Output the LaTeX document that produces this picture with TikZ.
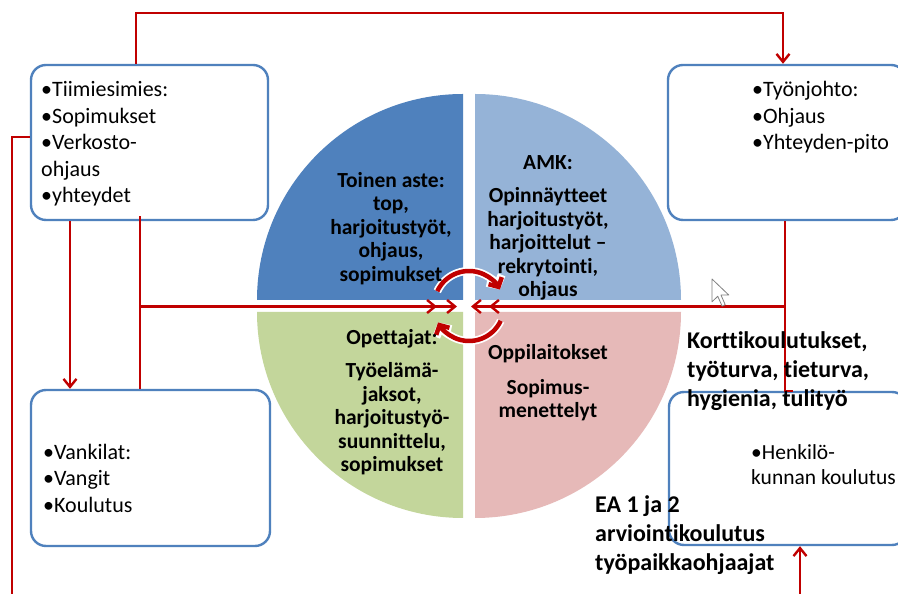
\documentclass[tikz,border=0pt]{standalone}
\usepackage{fontspec}
\setmainfont{Carlito}[Ligatures=NoCommon]
\usetikzlibrary{arrows.meta}
\definecolor{quadA}{HTML}{4F81BD}
\definecolor{quadB}{HTML}{95B3D7}
\definecolor{quadC}{HTML}{C3D69B}
\definecolor{quadD}{HTML}{E6B9B8}
\definecolor{boxblue}{HTML}{4F81BD}
\definecolor{linkred}{HTML}{C00000}
\begin{document}
\begin{tikzpicture}[x=1pt,y=1pt,
  box/.style={draw=boxblue, line width=2.4pt, rounded corners=15pt},
  link/.style={draw=linkred, line width=2.4pt},
  barb/.style={-{Straight Barb[length=8pt,width=13pt]}},
  boxtext/.style={font=\fontsize{22}{26.5}\selectfont, align=left, inner sep=0pt, anchor=base west},
  pietext/.style={font=\bfseries\fontsize{21.5}{23.5}\selectfont, align=center, inner sep=0pt, anchor=base},
  note/.style={font=\bfseries\fontsize{24}{29}\selectfont, align=left, inner sep=0pt, anchor=base west},
  cycarrow/.style={line width=4.5pt, linkred, -{Straight Barb[length=7pt,width=15pt]}},
  cychalo/.style={line width=8pt, white, -{Straight Barb[length=7pt,width=17pt]}}]

\useasboundingbox (0,0) rectangle (898,594);
\fill[white] (0,0) rectangle (898,594);

% four quarter-disc sectors
\fill[quadA] (463,294) -- ++(-206,0) arc[start angle=180, end angle=90, radius=206] -- cycle;
\fill[quadB] (475,294) -- ++(0,206) arc[start angle=90, end angle=0, radius=206] -- cycle;
\fill[quadC] (463,282) -- ++(0,-206) arc[start angle=270, end angle=180, radius=206] -- cycle;
\fill[quadD] (475,282) -- ++(206,0) arc[start angle=0, end angle=-90, radius=206] -- cycle;

% rounded boxes
\node[box, minimum width=237pt, minimum height=155pt] (tlbox) at (149.5,451.5) {};
\node[box, minimum width=238pt, minimum height=155pt] (trbox) at (787,451.5) {};
\node[box, minimum width=239pt, minimum height=156pt] (blbox) at (150.5,126) {};
\node[box, minimum width=238pt, minimum height=153pt] (brbox) at (788,125.5) {};

% junction points and free ends
\coordinate (hub) at (469,288);
\coordinate (ljoin) at (140,287.5);
\coordinate (rjoin) at (785,287.5);
\coordinate (lin) at (457,287.5);
\coordinate (rin) at (471,287.5);
\coordinate (leftfoot) at (12,-6);
\coordinate (rightfoot) at (800,-6);

% connectors
\draw[link, barb] (tlbox.north -| 136,0) -- ++(0,51) -| (trbox.north -| 783,0);
\draw[link] (tlbox.west |- 0,457) -| (leftfoot);
\draw[link, barb] (tlbox.south -| 70,0) -- (blbox.north -| 70,0);
\draw[link] ([yshift=5pt]tlbox.south -| 140,0) -- (blbox.north -| 140,0);
\draw[link, barb] (ljoin) -- (lin);
\draw[link, barb] (ljoin) -- ([xshift=-20pt]lin);
\draw[link] (trbox.south -| 785,0) -- (brbox.north -| 785,0) -- ++(8,0);
\draw[link, barb] (rjoin) -- (rin);
\draw[link, barb] (rjoin) -- ([xshift=18pt]rin);
\draw[link, barb] (rightfoot) -- (brbox.south -| 800,0);

% circular arrows around the centre
\draw[cychalo] ([shift={(155:35)}]hub) arc[start angle=155, end angle=28, radius=35];
\draw[cycarrow] ([shift={(155:35)}]hub) arc[start angle=155, end angle=28, radius=35];
\draw[cychalo] ([shift={(-25:35)}]hub) arc[start angle=-25, end angle=-152, radius=35];
\draw[cycarrow] ([shift={(-25:35)}]hub) arc[start angle=-25, end angle=-152, radius=35];

% mouse pointer
\filldraw[fill=white, draw=gray, line width=0.8pt, line join=round, shift={(712,315)}, scale=1.2]
  (0,0) -- ++(0,-19) -- ++(4.8,4.6) -- ++(3.6,-8.2) -- ++(2.6,1.2) -- ++(-3.5,8) -- ++(6.5,0) -- cycle;

% texts in the boxes (anchored at the baseline of their last line)
\node[boxtext] (tltext) at (41,391.3) {•Tiimiesimies:\\•Sopimukset\\•Verkosto-\\ohjaus\\•yhteydet};
\node[boxtext] (trtext) at (752,444.3) {•Työnjohto:\\•Ohjaus\\•Yhteyden-pito};
\node[boxtext, font=\fontsize{22}{26.7}\selectfont] (bltext) at (43,81.3) {•Vankilat:\\•Vangit\\•Koulutus};
\node[boxtext, font=\fontsize{21.5}{25}\selectfont] (brtext) at (751,109.7) {•Henkilö-\\kunnan koulutus};

% texts in the sectors
\node[pietext] (aste) at (391,312.5) {Toinen aste:\\top,\\harjoitustyöt,\\ohjaus,\\sopimukset};
\node[pietext] (amk) at (548,297) {AMK:\\[10pt]Opinnäytteet\\harjoitustyöt,\\harjoittelut –\\rekrytointi,\\ohjaus};
\node[pietext] (opet) at (392,122) {Opettajat:\\[10pt]Työelämä-\\jaksot,\\harjoitustyö-\\suunnittelu,\\sopimukset};
\node[pietext] (oppil) at (548,176) {Oppilaitokset\\[11pt]Sopimus-\\menettelyt};

% free labels
\node[note] (kortti) at (687,187) {Korttikoulutukset,\\työturva, tieturva,\\hygienia, tulityö};
\node[note] (ea) at (595,23.3) {EA 1 ja 2\\arviointikoulutus\\työpaikkaohjaajat};
\end{tikzpicture}
\end{document}
